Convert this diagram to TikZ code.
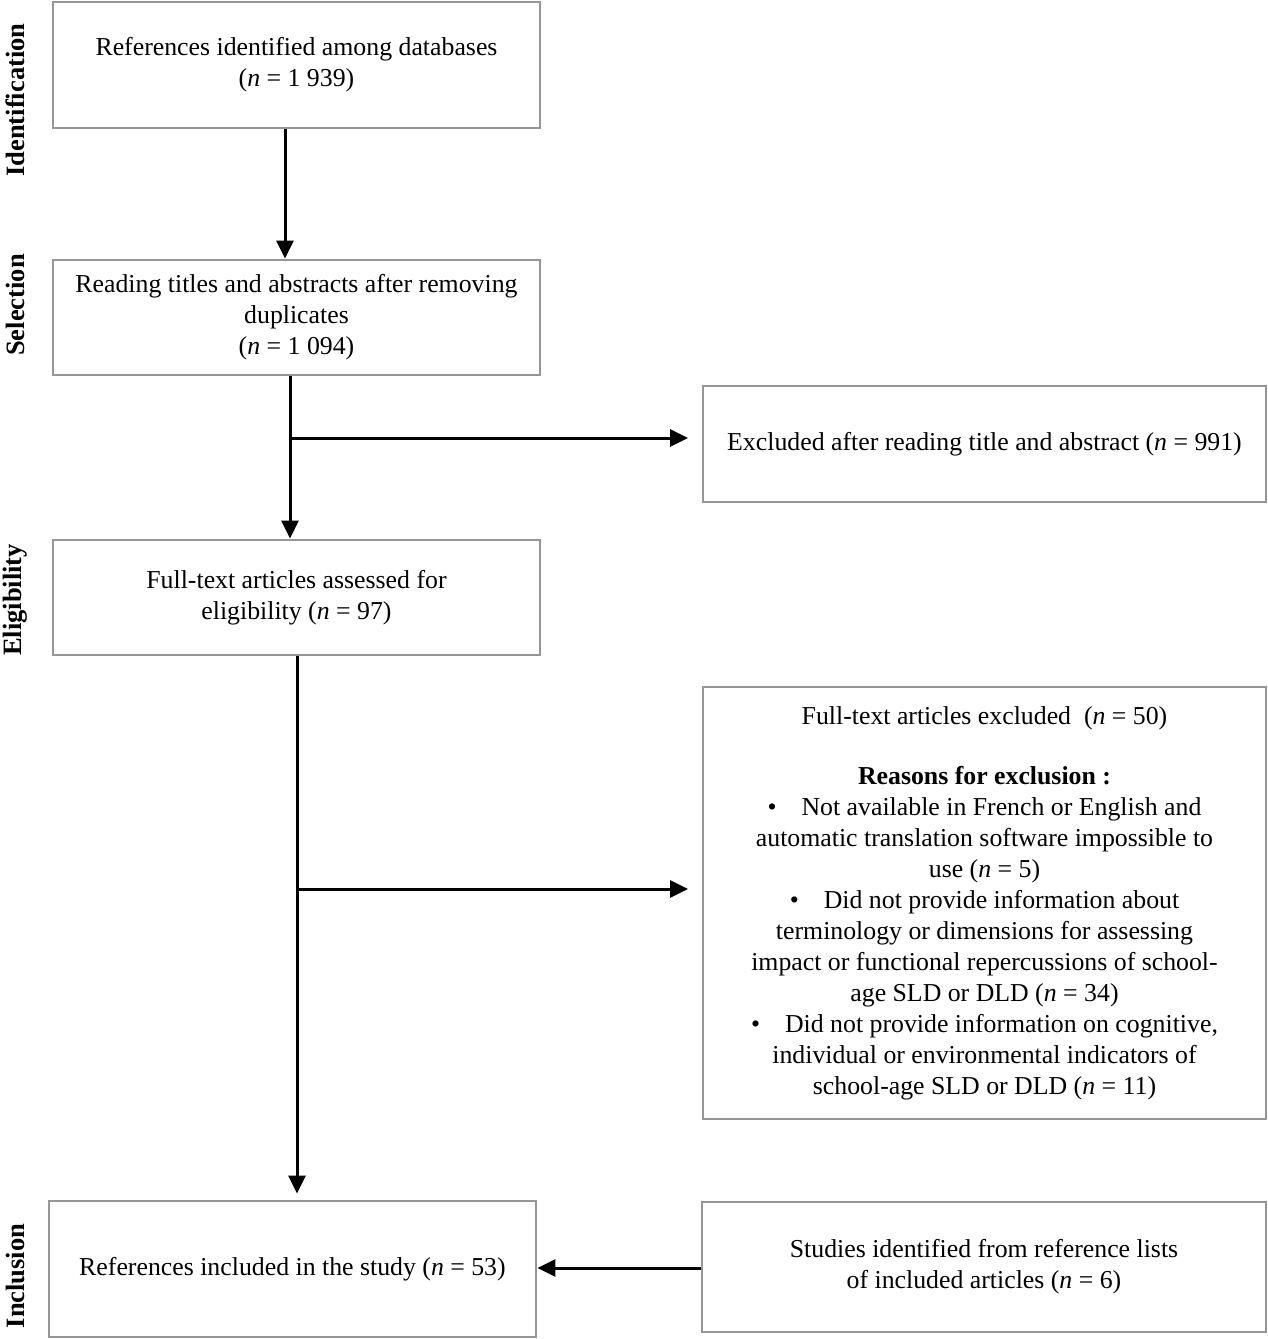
\documentclass[tikz,border=0pt]{standalone}
\usepackage{fontspec}
\setmainfont{Liberation Serif}
\usetikzlibrary{arrows.meta}
\definecolor{boxgray}{RGB}{150,150,150}
\begin{document}
\begin{tikzpicture}[x=1pt,y=-1pt,
  box/.style={draw=boxgray, line width=2.8pt, inner sep=0pt, align=center,
    font=\fontsize{25.8}{31}\selectfont},
  side/.style={rotate=90, font=\fontsize{26.5}{30}\selectfont\bfseries, inner sep=0pt},
  arr/.style={line width=3pt, -{Triangle[length=18pt,width=17pt]}}]
\useasboundingbox (0,0) rectangle (1267,1339);
% boxes
\node[box, minimum width=487pt, minimum height=126pt] (B1) at (296.5,65)
  {References identified among databases\\(\textit{n} = 1 939)};
\node[box, minimum width=487pt, minimum height=115pt] (B2) at (296.5,317.5)
  {Reading titles and abstracts after removing\\duplicates\\(\textit{n} = 1 094)};
\node[box, minimum width=487pt, minimum height=115pt] (B3) at (296.5,597.5)
  {Full-text articles assessed for\\eligibility (\textit{n} = 97)};
\node[box, minimum width=563pt, minimum height=116pt] (B4) at (984.5,444)
  {Excluded after reading title and abstract (\textit{n} = 991)};
\node[box, minimum width=563pt, minimum height=432pt] (B5) at (984.5,903)
  {Full-text articles excluded\ \ (\textit{n} = 50)\\[29pt]
   \textbf{Reasons for exclusion :}\\
   \textbullet\hspace{25pt}Not available in French or English and\\
   automatic translation software impossible to\\
   use (\textit{n} = 5)\\
   \textbullet\hspace{25pt}Did not provide information about\\
   terminology or dimensions for assessing\\
   impact or functional repercussions of school-\\
   age SLD or DLD (\textit{n} = 34)\\
   \textbullet\hspace{25pt}Did not provide information on cognitive,\\
   individual or environmental indicators of\\
   school-age SLD or DLD (\textit{n} = 11)};
\node[box, minimum width=487pt, minimum height=136pt] (B6) at (292.5,1269)
  {References included in the study (\textit{n} = 53)};
\node[box, minimum width=564pt, minimum height=130pt] (B7) at (984,1267)
  {Studies identified from reference lists\\of included articles (\textit{n} = 6)};
% side labels
\node[side] (L1) at (15,100) {Identification};
\node[side] (L2) at (15,305) {Selection};
\node[side] (L3) at (15,600) {Eligibility};
\node[side] (L4) at (15,1276) {Inclusion};
% connectors
\coordinate (j1) at (290,438);
\coordinate (e1) at (688,438);
\coordinate (j2) at (297,889);
\coordinate (e2) at (688,889);
\draw[arr] ([xshift=-11.5pt]B1.south) -- ([xshift=-11.5pt]B2.north);
\draw[arr] ([xshift=-6.5pt]B2.south) -- ([xshift=-6.5pt]B3.north);
\draw[arr] (j1) -- (e1);
\draw[arr, shorten >=6pt] ([xshift=0.5pt]B3.south) -- ([xshift=4.5pt]B6.north);
\draw[arr] (j2) -- (e2);
\draw[arr] (B7.west |- 0,1268) -- (B6.east |- 0,1268);
\end{tikzpicture}
\end{document}
